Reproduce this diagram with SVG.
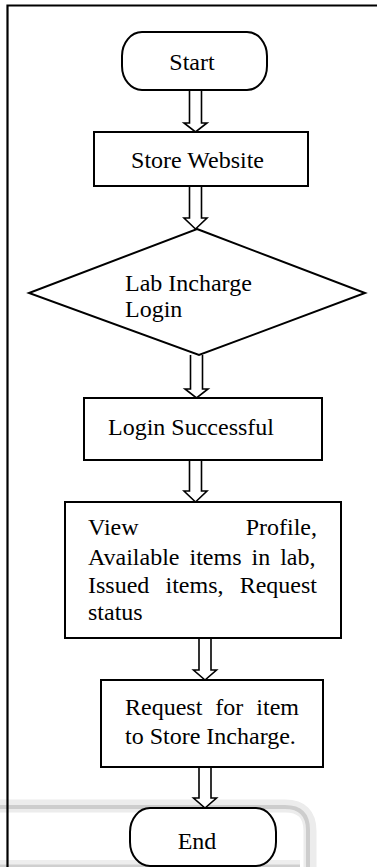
<svg xmlns="http://www.w3.org/2000/svg" width="377" height="867" viewBox="0 0 377 867">
<style>
.box{fill:#fff;stroke:#000;stroke-width:2}
.arr{fill:#fff;stroke:#000;stroke-width:1.6;stroke-linejoin:miter}
text{font-family:'Liberation Serif','Times New Roman',serif;font-size:24px;fill:#000}
</style>
<rect width="377" height="867" fill="#fff"/>
<g id="shadow" fill="none">
<path d="M0,806 H285 Q310,806 310,831 V867" stroke="#ececec" stroke-width="13"/>
<path d="M0,807 H285 Q308,807 308,830 V867" stroke="#cdcdcd" stroke-width="4"/>
<path d="M0,863 H300" stroke="#eeeeee" stroke-width="6"/>
<path d="M0,866 H300" stroke="#cfcfcf" stroke-width="3"/>
</g>
<g id="frame" fill="none" stroke="#000" stroke-width="2.2">
<path d="M377,5.5 H7.5 V867"/>
</g>
<g id="connectors">
<path class="arr" d="M189.5,90 V123 H184 L195.5,132 L207,123 H201.5 V90"/>
<path class="arr" d="M189.5,186 V218 H184 L195.5,229 L207,218 H201.5 V186"/>
<path class="arr" d="M190.5,355 V389 H185 L196.5,398 L208,389 H202.5 V355"/>
<path class="arr" d="M189.5,460 V491 H184 L195.5,502 L207,491 H201.5 V460"/>
<path class="arr" d="M199,638 V670 H193.5 L205,680 L216.5,670 H211 V638"/>
<path class="arr" d="M199,767 V798 H193.5 L205,808 L216.5,798 H211 V767"/>
</g>
<g id="start">
<rect class="box" x="122" y="32" width="145" height="58" rx="20" ry="24"/>
<text x="192" y="70" text-anchor="middle">Start</text>
</g>
<g id="store-website">
<rect class="box" x="94" y="132" width="214" height="54"/>
<text x="197.5" y="168" text-anchor="middle">Store Website</text>
</g>
<g id="lab-incharge-login">
<polygon class="box" points="197,229 365,293 199,355 29,293"/>
<text x="125" y="291">Lab Incharge</text>
<text x="125" y="317">Login</text>
</g>
<g id="login-successful">
<rect class="box" x="84" y="398" width="238" height="62"/>
<text x="108" y="435">Login Successful</text>
</g>
<g id="view">
<rect class="box" x="65" y="502" width="276" height="136"/>
<text x="88" y="535">View</text>
<text x="317" y="535" text-anchor="end">Profile,</text>
<text x="88" y="565" word-spacing="4">Available items in lab,</text>
<text x="88" y="593">Issued</text>
<text x="165.5" y="593">items,</text>
<text x="317" y="593" text-anchor="end">Request</text>
<text x="88" y="620">status</text>
</g>
<g id="request">
<rect class="box" x="101" y="680" width="222" height="87"/>
<text x="125" y="715" word-spacing="7">Request for item</text>
<text x="125" y="744">to Store Incharge.</text>
</g>
<g id="end">
<rect class="box" x="130" y="808" width="146" height="58" rx="20" ry="24"/>
<text x="197" y="849" text-anchor="middle">End</text>
</g>
</svg>
